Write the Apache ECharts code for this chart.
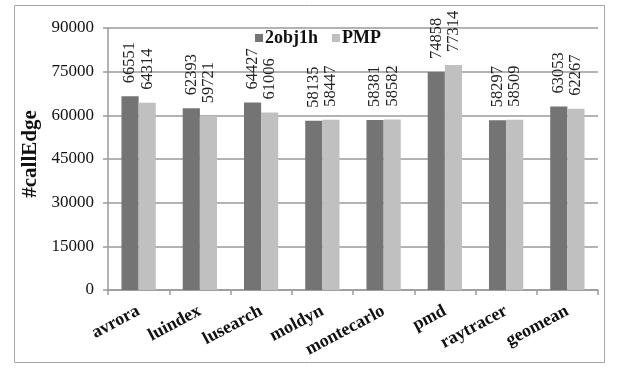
<!DOCTYPE html>
<html><head><meta charset="utf-8">
<script src="https://cdn.jsdelivr.net/npm/echarts@6/dist/echarts.min.js"></script>
<style>html,body{margin:0;padding:0;background:#fff}#c{width:618px;height:368px}</style>
</head><body><div id="c"></div>
<script>
const categories = ['avrora','luindex','lusearch','moldyn','montecarlo','pmd','raytracer','geomean'];
const series2obj1h = [66551, 62393, 64427, 58135, 58381, 74858, 58297, 63053];
const seriesPMP = [64314, 59721, 61006, 58447, 58582, 77314, 58509, 62267];
const yTicks = [0, 15000, 30000, 45000, 60000, 75000, 90000];

const F = '"Liberation Serif", "DejaVu Serif", serif';
const chart = echarts.init(document.getElementById('c'), null, {renderer: 'canvas'});
const lbl = {
  show: true, position: 'top', rotate: 90, align: 'left', verticalAlign: 'middle',
  distance: 11, offset: [2, 0], fontFamily: F, fontSize: 16.5, color: '#222'
};
chart.setOption({
  animation: false,
  graphic: [{type: 'rect', shape: {x: 14.5, y: 5.5, width: 590, height: 357},
    style: {fill: 'none', stroke: '#a6a6a6', lineWidth: 1}}],
  grid: {left: 108, right: 20, top: 28, bottom: 78},
  legend: {
    left: 250, top: 24, itemWidth: 8, itemHeight: 8, itemGap: 14,
    icon: 'rect',
    textStyle: {fontFamily: F, fontSize: 18, fontWeight: 'bold', color: '#111', padding: [0,0,0,-3]},
    data: ['2obj1h', 'PMP']
  },
  xAxis: {
    type: 'category', data: categories,
    axisLine: {lineStyle: {color: '#9a9a9a', width: 1.5}},
    axisTick: {show: true, length: 5, lineStyle: {color: '#9a9a9a', width: 1.5}},
    axisLabel: {interval: 0, rotate: 28, margin: 20, fontFamily: F, fontSize: 18, fontWeight: 'bold', color: '#111'}
  },
  yAxis: {
    type: 'value', min: yTicks[0], max: yTicks[yTicks.length - 1], interval: 15000,
    name: '#callEdge', nameLocation: 'middle', nameGap: 64,
    nameTextStyle: {fontFamily: F, fontSize: 21, fontWeight: 'bold', color: '#111', padding: [0, 0, 0, 10]},
    axisLine: {show: true, lineStyle: {color: '#9a9a9a', width: 1.5}},
    axisTick: {show: true, length: 5, lineStyle: {color: '#9a9a9a', width: 1.5}},
    axisLabel: {margin: 14, fontFamily: F, fontSize: 17, color: '#111', formatter: v => String(v)},
    splitLine: {lineStyle: {color: '#9a9a9a', width: 1.5}}
  },
  series: [
    {name: '2obj1h', type: 'bar', data: series2obj1h, barGap: '0%', barCategoryGap: '44%',
     itemStyle: {color: '#747474'}, label: lbl},
    {name: 'PMP', type: 'bar', data: seriesPMP,
     itemStyle: {color: '#c0c0c0'}, label: lbl}
  ]
});
</script></body></html>
